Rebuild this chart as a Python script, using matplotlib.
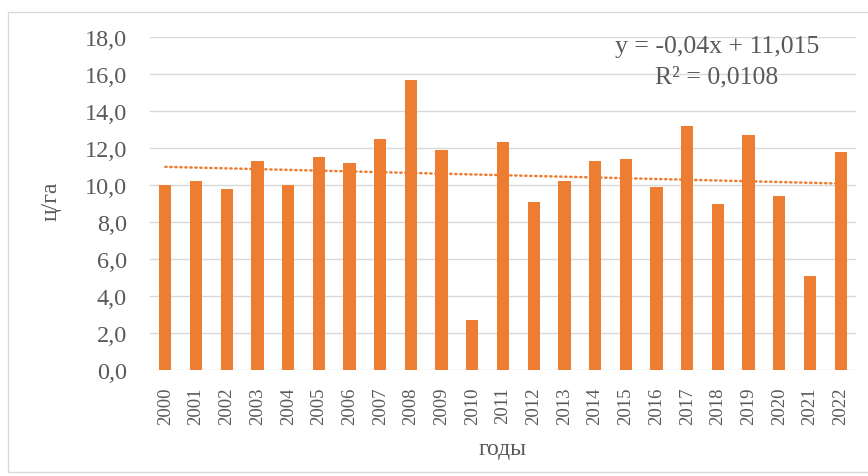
import numpy as np
import matplotlib.pyplot as plt
from matplotlib.patches import Rectangle

years = [str(y) for y in range(2000, 2023)]
values = [10.0, 10.2, 9.8, 11.3, 10.0, 11.5, 11.2, 12.5, 15.7, 11.9, 2.7,
          12.3, 9.1, 10.2, 11.3, 11.4, 9.9, 13.2, 9.0, 12.7, 9.4, 5.1, 11.8]
yticks = np.arange(0, 20, 2)
eq_text = 'y = -0,04x + 11,015'
r2_text = 'R² = 0,0108'

orange = '#ED7D31'
grey = '#595959'
plt.rcParams['font.family'] = ['Liberation Serif', 'DejaVu Serif']

fig = plt.figure(figsize=(8.68, 4.77), dpi=100)
ax = fig.add_axes([150 / 868, 1 - 371 / 477, 706 / 868, 333 / 477])

x = np.arange(len(years))
ax.bar(x, values, width=0.4, color=orange, zorder=3)

# linear trend (Excel numbers x from 1)
k, b = np.polyfit(x + 1, values, 1)
ax.plot(x, k * (x + 1) + b, color=orange, lw=1.8, ls=(0, (0.5, 1.5)),
        dash_capstyle='round', zorder=4)

ax.set_xlim(-0.5, len(years) - 0.5)
ax.set_ylim(0, 18)
ax.set_yticks(yticks)
ax.set_yticklabels([f'{v:.1f}'.replace('.', ',') for v in yticks],
                   fontsize=17.5, color=grey)
ax.set_xticks(x)
ax.set_xticklabels(years, rotation=90, fontsize=13.5, color=grey)
ax.tick_params(length=0)
ax.tick_params(axis='y', pad=16.5)
ax.tick_params(axis='x', pad=12)
ax.grid(axis='y', color='#D9D9D9', lw=1, zorder=0)
for s in ax.spines.values():
    s.set_visible(False)

ax.set_ylabel('ц/га', fontsize=17, color=grey)
ax.yaxis.set_label_coords(-88 / 706, 0.51)
ax.set_xlabel('годы', fontsize=17, color=grey)
ax.xaxis.set_label_coords(0.5, -68 / 333)

ax.text(0.803, 0.973, eq_text, transform=ax.transAxes,
        ha='center', va='center', fontsize=18.5, color=grey)
ax.text(0.803, 0.883, r2_text, transform=ax.transAxes,
        ha='center', va='center', fontsize=18.5, color=grey)

fig.patches.append(Rectangle((8 / 868, 4 / 477), 1.0, 460 / 477,
                             transform=fig.transFigure, fill=False,
                             edgecolor='#D9D9D9', lw=1))

fig.savefig('out.png', dpi=100)
